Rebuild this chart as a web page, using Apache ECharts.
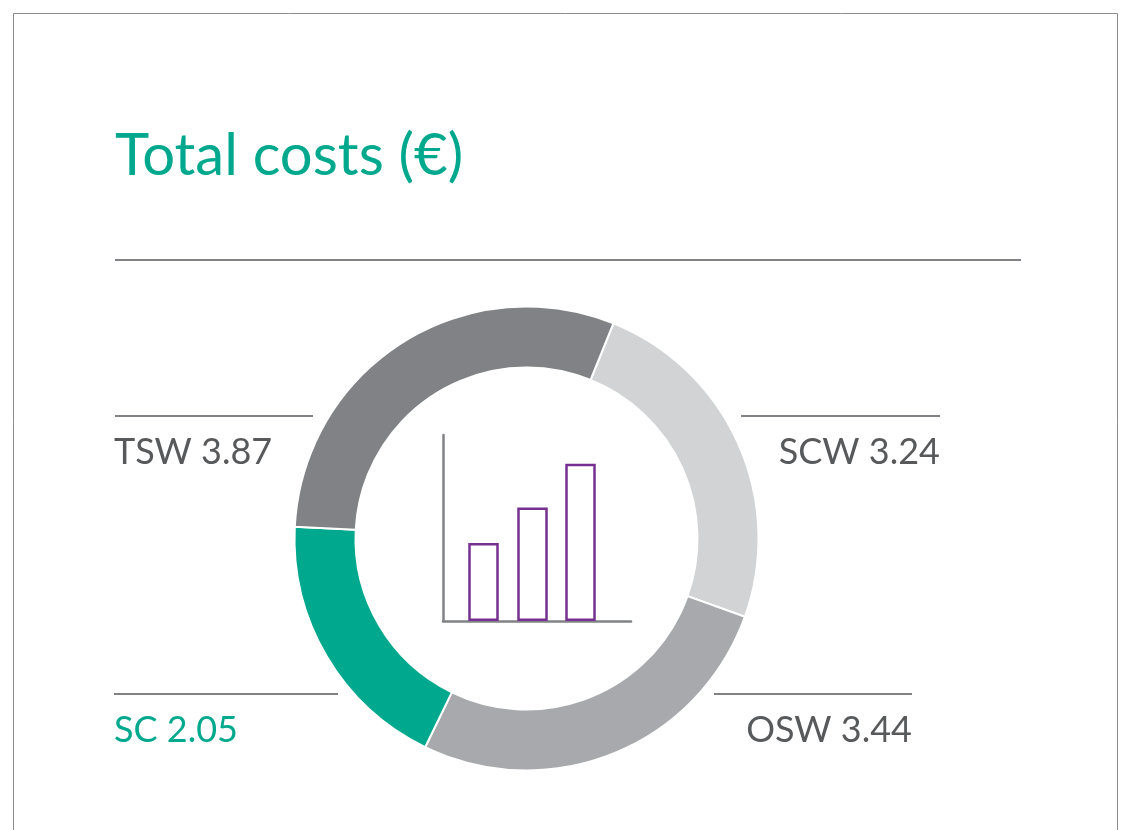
<!DOCTYPE html>
<html>
<head>
<meta charset="utf-8">
<title>Total costs</title>
<style>
html, body { margin: 0; padding: 0; background: #fff; }
#chart { width: 1133px; height: 830px; }
</style>
<script src="https://cdn.jsdelivr.net/npm/echarts@6/dist/echarts.min.js"></script>
</head>
<body>
<div id="chart"></div>
<script>
var titleText = 'Total costs (€)';

// ring order, clockwise from the top right
var categories = ['SCW', 'OSW', 'SC', 'TSW'];
var costs = [3.24, 3.44, 2.05, 3.87];
// the printed ring is not quite to scale, so arc sizes are read off the picture (degrees)
var arcSizes = [87.7, 96.2, 67, 109.1];
var ringColors = ['#d1d3d4', '#a7a9ac', '#00a88e', '#808285'];

// little icon in the middle of the ring
var iconX = [40.5, 89.5, 137.5];
var iconBars = [42, 61, 84.5];

var grey = '#58595b';
var ruleColor = '#808285';
var green = '#00a88e';
var font = 'Lato';

function rule(x1, x2, y) {
    return {
        type: 'line',
        shape: { x1: x1, y1: y, x2: x2, y2: y },
        style: { stroke: ruleColor, lineWidth: 2 }
    };
}

function label(i, x, y, align) {
    return {
        type: 'text',
        x: x,
        y: y,
        style: {
            text: categories[i] + ' ' + costs[i].toFixed(2),
            fill: categories[i] === 'SC' ? green : grey,
            font: '400 36px ' + font,
            textAlign: align,
            textVerticalAlign: 'middle'
        }
    };
}

var myChart = echarts.init(document.getElementById('chart'));

var option = {
    backgroundColor: '#fff',
    animation: false,
    title: {
        text: titleText,
        left: 110,
        top: 122,
        textStyle: { color: green, fontFamily: font, fontWeight: 400, fontSize: 58 }
    },
    grid: { left: 443, top: 435, width: 188, height: 186 },
    xAxis: {
        type: 'value',
        min: 0,
        max: 188,
        splitLine: { show: false },
        axisTick: { show: false },
        axisLabel: { show: false },
        axisLine: { show: true, lineStyle: { color: ruleColor, width: 2.5 } }
    },
    yAxis: {
        type: 'value',
        min: 0,
        max: 100,
        splitLine: { show: false },
        axisTick: { show: false },
        axisLabel: { show: false },
        axisLine: { show: true, lineStyle: { color: ruleColor, width: 2.5 } }
    },
    series: [
        {
            type: 'pie',
            radius: [171, 232],
            center: [526.5, 538.5],
            startAngle: 68,
            clockwise: true,
            label: { show: false },
            labelLine: { show: false },
            silent: true,
            data: categories.map(function (name, i) {
                return {
                    name: name,
                    value: arcSizes[i],
                    itemStyle: { color: ringColors[i], borderColor: '#fff', borderWidth: 2 }
                };
            })
        },
        {
            type: 'bar',
            barWidth: 30.5,
            silent: true,
            itemStyle: { color: '#fff', borderColor: '#76308f', borderWidth: 2.5 },
            data: iconBars.map(function (v, i) { return [iconX[i], v]; })
        }
    ],
    graphic: [
        {
            type: 'rect',
            shape: { x: 13.5, y: 13.5, width: 1104, height: 840 },
            style: { fill: 'none', stroke: '#8a8c8e', lineWidth: 1 }
        },
        rule(115, 1021, 260),
        rule(115, 313, 416),
        rule(741, 940, 416),
        rule(114, 338, 694),
        rule(714, 912, 694),
        label(3, 114, 452, 'left'),
        label(0, 940, 452, 'right'),
        label(2, 114, 730, 'left'),
        label(1, 912, 730, 'right')
    ]
};

myChart.setOption(option);
</script>
</body>
</html>
